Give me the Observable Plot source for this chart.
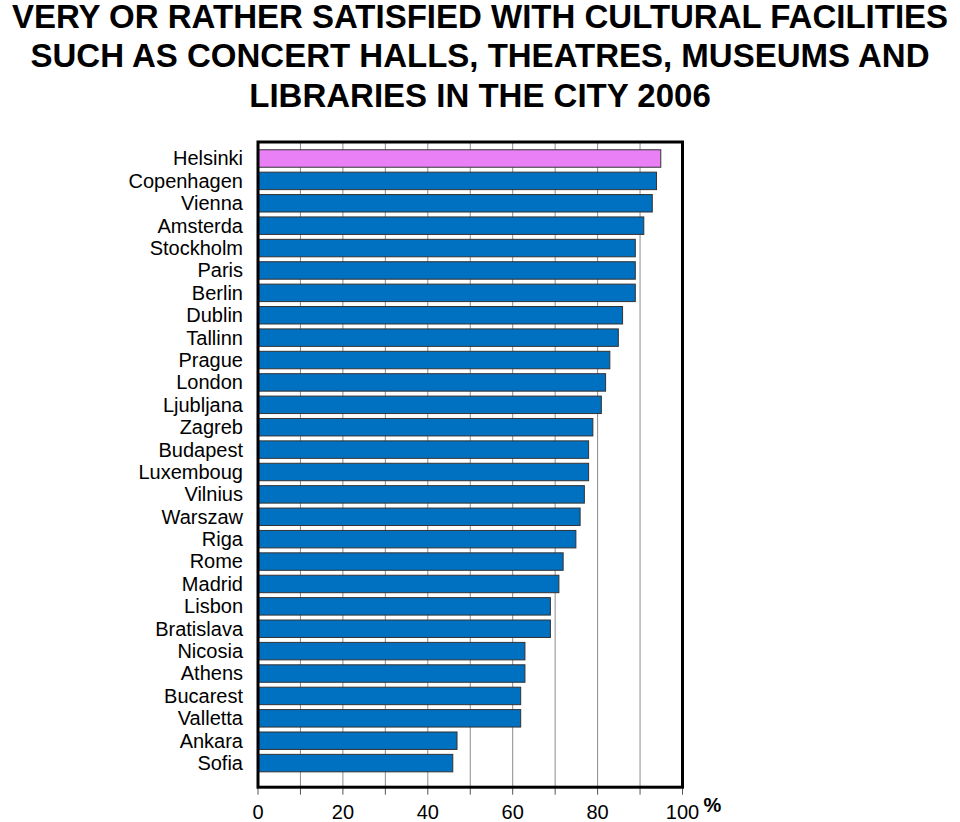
<!DOCTYPE html>
<html>
<head>
<meta charset="utf-8">
<script src="https://cdn.jsdelivr.net/npm/d3@7"></script>
<script src="https://cdn.jsdelivr.net/npm/@observablehq/plot@0.6"></script>
<style>
  html, body { margin: 0; padding: 0; background: #fff; overflow: hidden; }
  #title {
    height: 120px; width: 960px; box-sizing: border-box;
    text-align: center;
    font-family: "Liberation Sans Narrow", "Arial Narrow", "Liberation Sans", Arial, sans-serif;
    font-weight: bold; font-size: 33px; line-height: 34px; color: #000;
    white-space: nowrap; padding: 0; margin: 0;
  }
  #title div { height: 34px; margin-bottom: 5.4px; }
</style>
</head>
<body>
<div id="title"><div>VERY OR RATHER SATISFIED WITH CULTURAL FACILITIES</div><div>SUCH AS CONCERT HALLS, THEATRES, MUSEUMS AND</div><div>LIBRARIES IN THE CITY 2006</div></div>
<div id="chart"></div>
<script>
const cities = ["Helsinki","Copenhagen","Vienna","Amsterda","Stockholm","Paris","Berlin","Dublin","Tallinn","Prague","London","Ljubljana","Zagreb","Budapest","Luxemboug","Vilnius","Warszaw","Riga","Rome","Madrid","Lisbon","Bratislava","Nicosia","Athens","Bucarest","Valletta","Ankara","Sofia"];
const values = [95,94,93,91,89,89,89,86,85,83,82,81,79,78,78,77,76,75,72,71,69,69,63,63,62,62,47,46];
const highlighted = ["Helsinki"];
const gridTicks = [0,10,20,30,40,50,60,70,80,90,100];
const labelTicks = [0,20,40,60,80,100];
const unitLabel = ["%"];

const data = cities.map((c, i) => ({city: c, value: values[i], group: highlighted.includes(c) ? "highlight" : "other"}));

const chart = Plot.plot({
  width: 960,
  height: 702,
  marginLeft: 257.5,
  marginRight: 278,
  marginTop: 21.5,
  marginBottom: 35.3,
  style: {fontFamily: "'Liberation Sans', Arial, sans-serif", fontSize: "20px", color: "#000", background: "#fff"},
  x: {domain: [0, 100]},
  y: {domain: cities, paddingInner: 0.22, paddingOuter: 0.11, insetTop: 5.8, insetBottom: 12.4, round: false},
  color: {domain: ["highlight", "other"], range: ["#ea80f5", "#0070c0"]},
  marks: [
    Plot.gridX(gridTicks, {stroke: "#8c8c8c", strokeOpacity: 1, strokeWidth: 1}),
    Plot.barX(data, {x: "value", y: "city", fill: "group", stroke: "#333", strokeWidth: 1}),
    Plot.axisY({tickSize: 0, tickPadding: 15, label: null, fill: "#000", fontSize: 20}),
    Plot.axisX(gridTicks, {tickSize: 8, tickFormat: () => "", label: null, stroke: "#555"}),
    Plot.axisX(labelTicks, {tickSize: 0, tickPadding: 18, label: null, fill: "#000", fontSize: 20}),
    Plot.text(unitLabel, {text: d => d, frameAnchor: "bottom-right", textAnchor: "middle", dx: 30, dy: 25, fontSize: 20, fontWeight: "bold", fill: "#000"}),
    Plot.frame({stroke: "#000", strokeWidth: 3})
  ]
});
document.getElementById("chart").appendChild(chart);
</script>
</body>
</html>
